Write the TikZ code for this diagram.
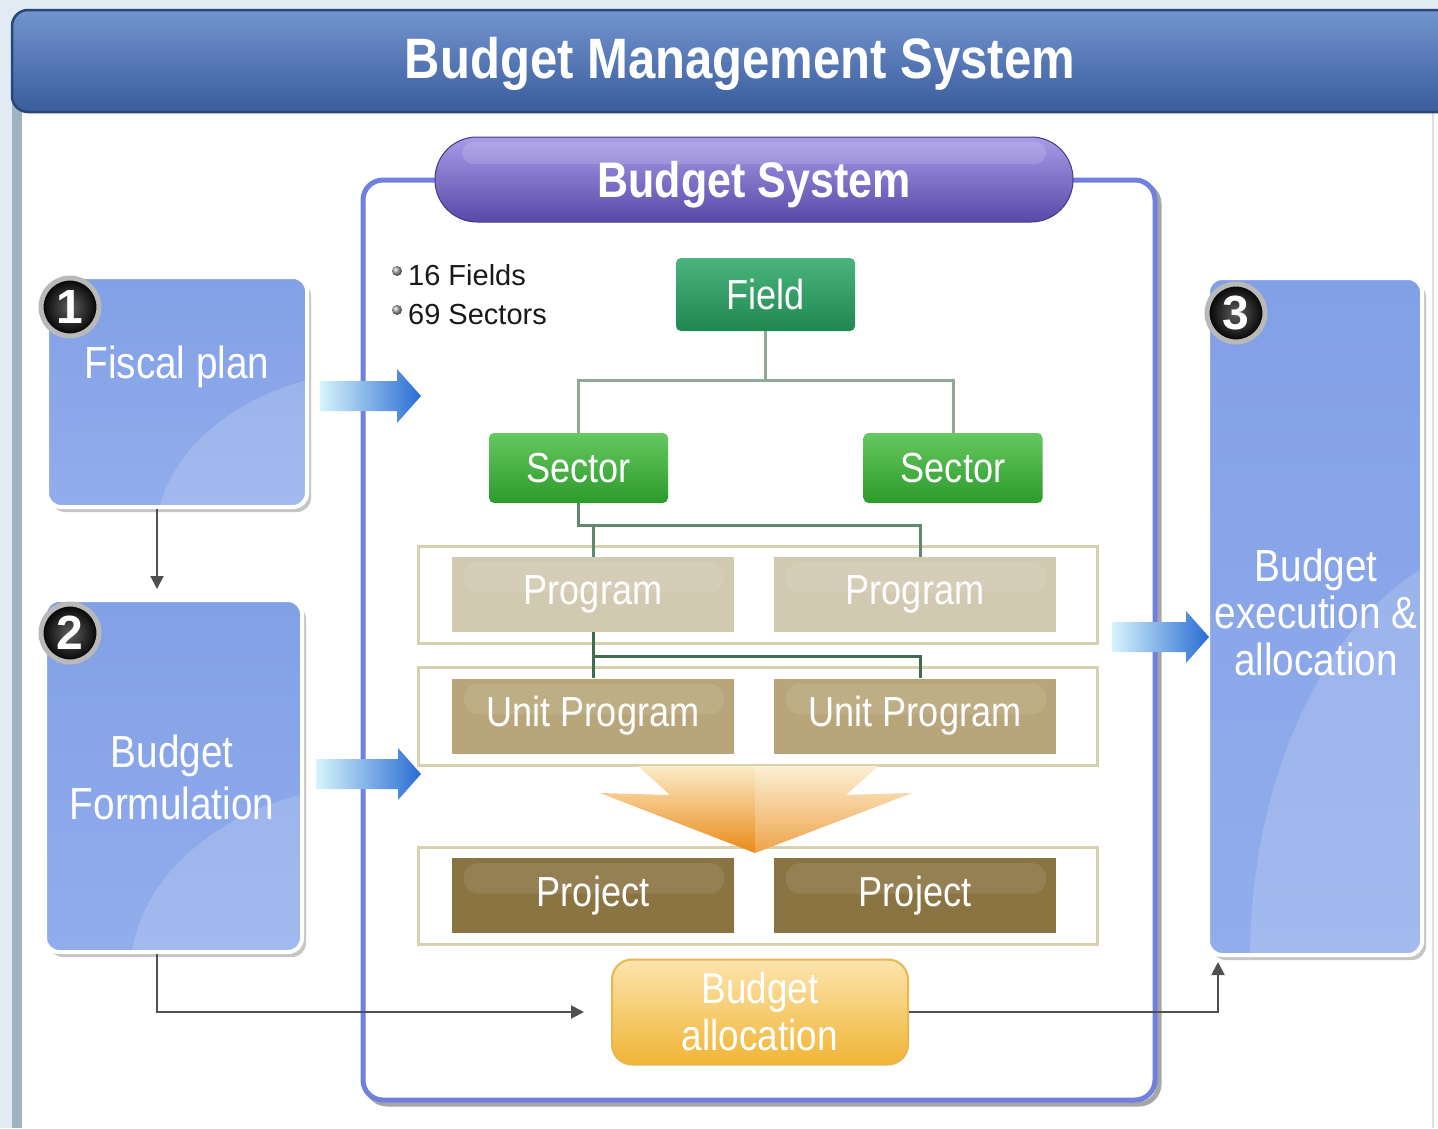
\documentclass[tikz,border=0pt]{standalone}
\usepackage{fontspec}
\newfontfamily\lsn[FakeStretch=0.86]{Liberation Sans}
\newfontfamily\lsw{Liberation Sans}
\usetikzlibrary{arrows.meta,shadows}
\definecolor{bgc}{HTML}{E2EAF4}
\definecolor{stripc}{HTML}{9FB3C3}
\definecolor{tbtop}{HTML}{7294CE}
\definecolor{tbmid}{HTML}{4B6BAA}
\definecolor{tbbot}{HTML}{3B5C9C}
\definecolor{tbdraw}{HTML}{274778}
\definecolor{contc}{HTML}{7080DC}
\definecolor{pilltop}{HTML}{A89CE8}
\definecolor{pillbot}{HTML}{5848A8}
\definecolor{fldtop}{HTML}{4AB47C}
\definecolor{fldbot}{HTML}{1F8850}
\definecolor{sectop}{HTML}{66C860}
\definecolor{secbot}{HTML}{2C9A2C}
\definecolor{progc}{HTML}{D2C9B1}
\definecolor{unitc}{HTML}{B8A67A}
\definecolor{projc}{HTML}{8A7441}
\definecolor{rowc}{HTML}{D8D1B0}
\definecolor{alloctop}{HTML}{FDE4AE}
\definecolor{allocbot}{HTML}{F0B535}
\definecolor{allocdraw}{HTML}{E9B650}
\definecolor{boxtop}{HTML}{82A0E6}
\definecolor{boxbot}{HTML}{92ADEC}
\definecolor{connc}{HTML}{505050}
\definecolor{treeA}{HTML}{8FA996}
\definecolor{treeB}{HTML}{5F8A70}
\definecolor{treeC}{HTML}{3E6B52}
\definecolor{arrL}{HTML}{D6F4FB}
\definecolor{arrR}{HTML}{2A6CD4}
\definecolor{orgT}{HTML}{FBEBC8}
\definecolor{orgB}{HTML}{EA8A18}
\begin{document}
\begin{tikzpicture}[x=1pt,y=-1pt,
  conn/.style={draw=connc, line width=2pt},
  tip/.style={-{Triangle[length=13pt,width=13pt]}},
  bluebox/.style={rectangle, rounded corners=14pt, top color=boxtop, bottom color=boxbot,
    draw=white, line width=4pt, inner sep=0pt,
    drop shadow={shadow xshift=4pt, shadow yshift=-5pt, fill=gray!45, opacity=1}},
  bigtxt/.style={text=white, align=center, font=\lsn\fontsize{45}{52}\selectfont},
  badge/.style={circle, minimum size=58pt, inner sep=0pt, draw=gray!55, line width=5pt,
    inner color=gray!75!black, outer color=black, text=white,
    font=\lsw\bfseries\fontsize{48}{48}\selectfont},
  greenbox/.style={rectangle, rounded corners=5pt, inner sep=0pt, text=white,
    font=\lsn\fontsize{42}{44}\selectfont},
  fieldbox/.style={greenbox, top color=fldtop, bottom color=fldbot, minimum width=179pt, minimum height=73pt},
  sectorbox/.style={greenbox, top color=sectop, bottom color=secbot, minimum width=179pt, minimum height=70pt},
  tanbox/.style={rectangle, inner sep=0pt, minimum width=282pt, minimum height=75pt,
    text=white, font=\lsn\fontsize{42}{44}\selectfont,
    path picture={\fill[white,opacity=.09,rounded corners=14pt]
      ([xshift=12pt,yshift=-5pt]path picture bounding box.north west) rectangle
      ([xshift=-10pt,yshift=2pt]path picture bounding box.east);}},
  rowbox/.style={draw=rowc, line width=3pt, fill=white},
  treeAst/.style={draw=treeA, line width=3pt},
  treeBst/.style={draw=treeB, line width=3pt},
  treeCst/.style={draw=treeC, line width=3pt},
  blockarrow/.style={left color=arrL, right color=arrR}
]
\useasboundingbox (0,0) rectangle (1438,1128);
% background
\fill[bgc] (0,0) rectangle (1438,1128);
\fill[white] (22,100) rectangle (1438,1128);
\fill[stripc] (12,100) rectangle (22,1128);
\draw[gray!25, line width=1.5pt] (1433,112) -- (1433,1128);

% title bar
\shade[top color=tbtop, middle color=tbmid, bottom color=tbbot, draw=tbdraw, line width=2.5pt, rounded corners=16pt]
  (12,10) rectangle (1470,112);
\node[text=white, font=\lsn\bfseries\fontsize{57}{60}\selectfont] (title) at (740,64)
  {Budget Management System};

% main container
\draw[gray!70, line width=5pt, rounded corners=20pt] (367,184) rectangle (1159,1104);
\draw[contc, line width=5pt, rounded corners=20pt, fill=white] (363,180) rectangle (1155,1100);

% Budget System pill
\node[rectangle, rounded corners=42pt, minimum width=638pt, minimum height=85pt, inner sep=0pt,
  top color=pilltop, bottom color=pillbot, draw=pillbot!80!black, line width=1pt] (bsys) at (754,179.5) {};
\fill[white, opacity=.14, rounded corners=11pt] (462,142) rectangle (1046,164);
\node[text=white, font=\lsn\bfseries\fontsize{50}{52}\selectfont] (bsystxt) at ([yshift=-5pt]bsys.center)
  {Budget System};

% bullets
\shade[ball color=gray!70] (397,271) circle (5pt);
\shade[ball color=gray!70] (397,310) circle (5pt);
\node[anchor=base west, inner sep=0pt, text=black!90, font=\lsw\fontsize{29}{30}\selectfont] (fields) at (408,285) {16 Fields};
\node[anchor=base west, inner sep=0pt, text=black!90, font=\lsw\fontsize{29}{30}\selectfont] (sectors) at (408,324) {69 Sectors};

% row containers
\draw[rowbox] (418,546) rectangle (1097,643);
\draw[rowbox] (418,667) rectangle (1097,765);
\draw[rowbox] (418,847) rectangle (1097,944);

% hierarchy nodes
\node[fieldbox] (field) at (765.5,294.5) {Field};
\node[sectorbox] (sec1) at (578.5,468) {Sector};
\node[sectorbox] (sec2) at (953,468) {Sector};
\node[tanbox, fill=progc] (prog1) at (593,594.5) {Program};
\node[tanbox, fill=progc] (prog2) at (915,594.5) {Program};
\node[tanbox, fill=unitc] (unit1) at (593,716) {Unit Program};
\node[tanbox, fill=unitc] (unit2) at (915,716) {Unit Program};
\node[tanbox, fill=projc] (proj1) at (593,895.5) {Project};
\node[tanbox, fill=projc] (proj2) at (915,895.5) {Project};

% tree connectors
\coordinate (jA) at (765.5,380);
\draw[treeAst] (field.south) -- (jA) -| (sec1.north);
\draw[treeAst] (jA) -| (sec2.north);
\coordinate (jB) at (578.5,525);
\draw[treeBst] (sec1.south) -- (jB) -| ([xshift=5pt]prog2.north);
\draw[treeBst] (prog1.north |- jB) -- (prog1.north);
\coordinate (jC) at (593,656);
\draw[treeCst] (prog1.south) -- (unit1.north);
\draw[treeCst] (jC) -| ([xshift=5pt]unit2.north);

% orange chevron
\shade[top color=orgT, bottom color=orgB] (638,766) -- (878,766) -- (846,795) -- (912,793) -- (755,853) -- (600,793) -- (670,795) -- cycle;
\fill[white, opacity=.22] (755,766) -- (878,766) -- (846,795) -- (912,793) -- (755,853) -- cycle;

% budget allocation
\node[rectangle, rounded corners=20pt, minimum width=296pt, minimum height=105pt, inner sep=0pt,
  top color=alloctop, bottom color=allocbot, draw=allocdraw, line width=2pt,
  text=white, align=center, font=\lsn\fontsize{43}{47}\selectfont] (alloc) at (760,1012) {Budget\\allocation};

% side boxes
\node[bluebox, minimum width=260pt, minimum height=230pt] (fiscal) at (177,392) {};
\begin{scope}
  \clip[rounded corners=14pt] (fiscal.south west) rectangle (fiscal.north east);
  \fill[white, opacity=.16] (385,540) ellipse [x radius=230pt, y radius=170pt];
\end{scope}
\node[bigtxt] (fiscaltxt) at (177,367) {Fiscal plan};

\node[bluebox, minimum width=257pt, minimum height=352pt] (formul) at (173.5,776) {};
\begin{scope}
  \clip[rounded corners=14pt] (formul.south west) rectangle (formul.north east);
  \fill[white, opacity=.16] (380,975) ellipse [x radius=250pt, y radius=190pt];
\end{scope}
\node[bigtxt] (formultxt) at (172,777) {Budget\\Formulation};

\node[bluebox, minimum width=214pt, minimum height=677pt] (exec) at (1315,616.5) {};
\begin{scope}
  \clip[rounded corners=14pt] (exec.south west) rectangle (exec.north east);
  \fill[white, opacity=.16] (1520,960) ellipse [x radius=270pt, y radius=420pt];
\end{scope}
\node[bigtxt, font=\lsn\fontsize{45}{47}\selectfont] (exectxt) at (1316,612) {Budget\\execution \&\\allocation};

% badges
\node[badge] (b1) at (70,307) {1};
\node[badge] (b2) at (70,633) {2};
\node[badge] (b3) at (1236,313) {3};

% block arrows
\shade[blockarrow] (320,381) -- (397,381) -- (397,369) -- (421,396) -- (397,423) -- (397,411) -- (320,411) -- cycle;
\shade[blockarrow] (316,759) -- (398,759) -- (398,748) -- (421,774) -- (398,800) -- (398,789) -- (316,789) -- cycle;
\shade[blockarrow] (1112,622) -- (1186,622) -- (1186,611) -- (1209,637) -- (1186,663) -- (1186,652) -- (1112,652) -- cycle;

% connectors
\draw[conn, tip, shorten >=9pt] ([xshift=-20pt]fiscal.south) -- ([xshift=-16.5pt]formul.north);
\draw[conn, tip, shorten >=27pt] ([xshift=-16.5pt]formul.south) |- (alloc.west);
\draw[conn, tip, shorten >=5pt] (alloc.east) -| ([xshift=-97pt]exec.south);
\end{tikzpicture}
\end{document}
